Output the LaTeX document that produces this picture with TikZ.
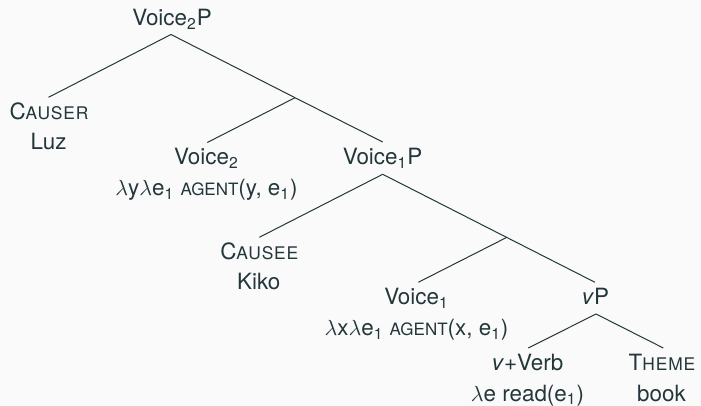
\documentclass[tikz,border=0pt]{standalone}
\usepackage{fontspec}
\setmainfont{TeX Gyre Heros}
\definecolor{ink}{HTML}{23373B}
\definecolor{paper}{HTML}{FAFAFA}
% small capitals: spaced for the role labels, tight for predicates
\newcommand\rolecaps[2]{#1{\fontsize{8.7}{10}\selectfont\addfontfeature{LetterSpace=5}#2}}
\newcommand\predcaps[1]{{\fontsize{8.5}{10}\selectfont #1}}
\begin{document}
\begin{tikzpicture}[x=0.5pt,y=-0.5pt,
  every node/.style={inner sep=0pt, text=ink, font=\fontsize{11.2}{13}\selectfont},
  lab/.style={anchor=base},
  edge/.style={draw=ink, line width=0.5pt}]
\fill[paper] (0,0) rectangle (701,406);
\useasboundingbox (0,0) rectangle (701,406);

% labels (one node per printed line)
\node[lab] (v2p)    at (172,26)    {Voice\textsubscript{2}P};
\node[lab] (causer) at (49,119.5) {\rolecaps{C}{AUSER}};
\node[lab] (luz)    at (48.5,150)  {Luz};
\node[lab] (v2)     at (206.5,165) {Voice\textsubscript{2}};
\node[lab] (v2sem)  at (206.5,195.5) {$\lambda$y$\lambda$e\textsubscript{1} \predcaps{AGENT}(y, e\textsubscript{1})};
\node[lab] (v1p)    at (382.5,165) {Voice\textsubscript{1}P};
\node[lab] (causee) at (259.3,259.3) {\rolecaps{C}{AUSEE}};
\node[lab] (kiko)   at (258.8,289.5) {Kiko};
\node[lab] (v1)     at (416.5,305) {Voice\textsubscript{1}};
\node[lab] (v1sem)  at (416.5,335.5) {$\lambda$x$\lambda$e\textsubscript{1} \predcaps{AGENT}(x, e\textsubscript{1})};
\node[lab] (vp)     at (595.5,305) {\textit{v}P};
\node[lab] (verb)   at (527.5,370) {\textit{v}+Verb};
\node[lab] (vsem)   at (527.5,401) {$\lambda$e read(e\textsubscript{1})};
\node[lab] (theme)  at (662,370) {\rolecaps{T}{HEME}};
\node[lab] (book)   at (661.5,401) {book};

% attachment points of the branches
\coordinate (v2p-b)    at (171,34.5);
\coordinate (causer-t) at (48.5,97.3);
\coordinate (v2bar)    at (295,97.7);
\coordinate (v2-t)     at (207.3,142.5);
\coordinate (v1p-t)    at (382.7,142);
\coordinate (v1p-b)    at (382.7,174.3);
\coordinate (causee-t) at (259.3,237.3);
\coordinate (v1bar)    at (506.7,237.4);
\coordinate (v1-t)     at (418.3,282.3);
\coordinate (vp-t)     at (595,282.3);
\coordinate (vp-b)     at (596,314);
\coordinate (verb-t)   at (528.3,348);
\coordinate (theme-t)  at (663.3,348);

% branches
\draw[edge] (v2p-b) -- (causer-t);
\draw[edge] (v2p-b) -- (v2bar) -- (v1p-t);
\draw[edge] (v2bar) -- (v2-t);
\draw[edge] (v1p-b) -- (causee-t);
\draw[edge] (v1p-b) -- (v1bar) -- (vp-t);
\draw[edge] (v1bar) -- (v1-t);
\draw[edge] (vp-b) -- (verb-t);
\draw[edge] (vp-b) -- (theme-t);
\end{tikzpicture}
\end{document}
